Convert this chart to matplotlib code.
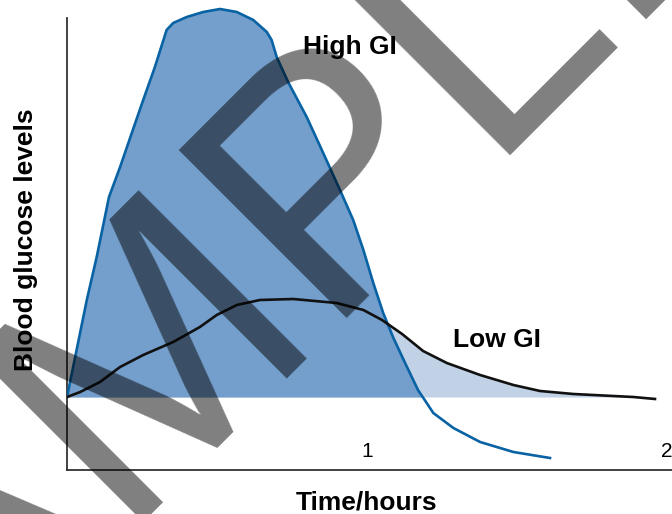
import matplotlib
matplotlib.use("Agg")
import matplotlib.pyplot as plt
import numpy as np

plt.rcParams['font.family'] = ['Liberation Sans', 'DejaVu Sans']

# Data (time in hours, glucose in arbitrary units)
baseline = 7.3
high_t = [0.000, 0.032, 0.066, 0.099, 0.140, 0.177, 0.216, 0.254, 0.293, 0.332,
          0.354, 0.399, 0.454, 0.510, 0.566, 0.621, 0.666, 0.682, 0.699, 0.737,
          0.799, 0.854, 0.910, 0.954, 0.988, 1.021, 1.054, 1.088, 1.127, 1.170,
          1.199, 1.221, 1.288, 1.377, 1.488, 1.610]
high_g = [7.3, 12.0, 17.0, 21.3, 27.3, 30.3, 33.7, 37.0, 40.3, 44.0,
          44.7, 45.3, 45.8, 46.1, 45.8, 45.0, 43.8, 43.0, 41.3, 38.8,
          35.3, 31.7, 28.0, 25.0, 22.0, 18.7, 15.7, 13.2, 10.7, 8.0,
          6.7, 5.7, 4.2, 2.8, 1.8, 1.2]
low_t = [0.000, 0.044, 0.110, 0.177, 0.254, 0.354, 0.443, 0.499, 0.566, 0.643,
         0.754, 0.899, 0.988, 1.050, 1.117, 1.187, 1.266, 1.377, 1.488, 1.577,
         1.688, 1.821, 1.888, 1.960]
low_g = [7.3, 7.8, 8.8, 10.3, 11.5, 12.8, 14.3, 15.5, 16.5, 17.0,
         17.1, 16.7, 16.0, 15.0, 13.6, 11.9, 10.7, 9.5, 8.5, 7.9,
         7.6, 7.4, 7.3, 7.1]

xticks = [1, 2]
xticklabels = ['1', '2']

W, H = 672, 514
fig = plt.figure(figsize=(W / 100, H / 100), dpi=100)
ax = fig.add_axes([67 / W, 44 / H, 1 - 67 / W, 470 / H])

ht = np.array(high_t); hg = np.array(high_g)
lt = np.array(low_t); lg = np.array(low_g)

ax.fill_between(lt, baseline, lg, where=lg >= baseline - 0.25, interpolate=True,
                color='#c1d1e6', lw=0, zorder=1)
ax.fill_between(ht, baseline, hg, where=hg >= baseline, interpolate=True,
                color='#749ecb', lw=0, zorder=2)
ax.plot(ht, hg, color='#0862a3', lw=1.9, zorder=3, solid_joinstyle='round')
ax.plot(lt, lg, color='#111111', lw=1.9, zorder=4, solid_joinstyle='round')

ax.set_xlim(0, (W - 67) / 300)
ax.set_ylim(0, 47.0)
ax.set_xticks(xticks)
ax.set_xticklabels(xticklabels, fontsize=15)
ax.set_yticks([])
ax.tick_params(axis='x', length=0, pad=-20)
for s in ['top', 'right']:
    ax.spines[s].set_visible(False)
for s in ['left', 'bottom']:
    ax.spines[s].set_color('#333333')
    ax.spines[s].set_linewidth(1.3)
ax.spines['left'].set_bounds(0, 45.2)

ax.text(0.943, 42.3, 'High GI', fontsize=19, fontweight='bold', ha='center', va='center', zorder=5)
ax.text(1.433, 13.0, 'Low GI', fontsize=19, fontweight='bold', ha='center', va='center', zorder=5)

fig.text(367 / W, 1 - 503 / H, 'Time/hours', fontsize=19, fontweight='bold', ha='center', va='center')
fig.text(26 / W, 1 - 240 / H, 'Blood glucose levels', fontsize=19, fontweight='bold',
         ha='center', va='center', rotation=90)

# watermark
fig.text(-207 / W, 1 - 857 / H, 'SAMPLE', rotation=45, rotation_mode='anchor',
         ha='left', va='baseline', fontsize=249, color='black', alpha=0.5,
         family='Liberation Sans', zorder=10)

fig.savefig('out.png', dpi=100)
